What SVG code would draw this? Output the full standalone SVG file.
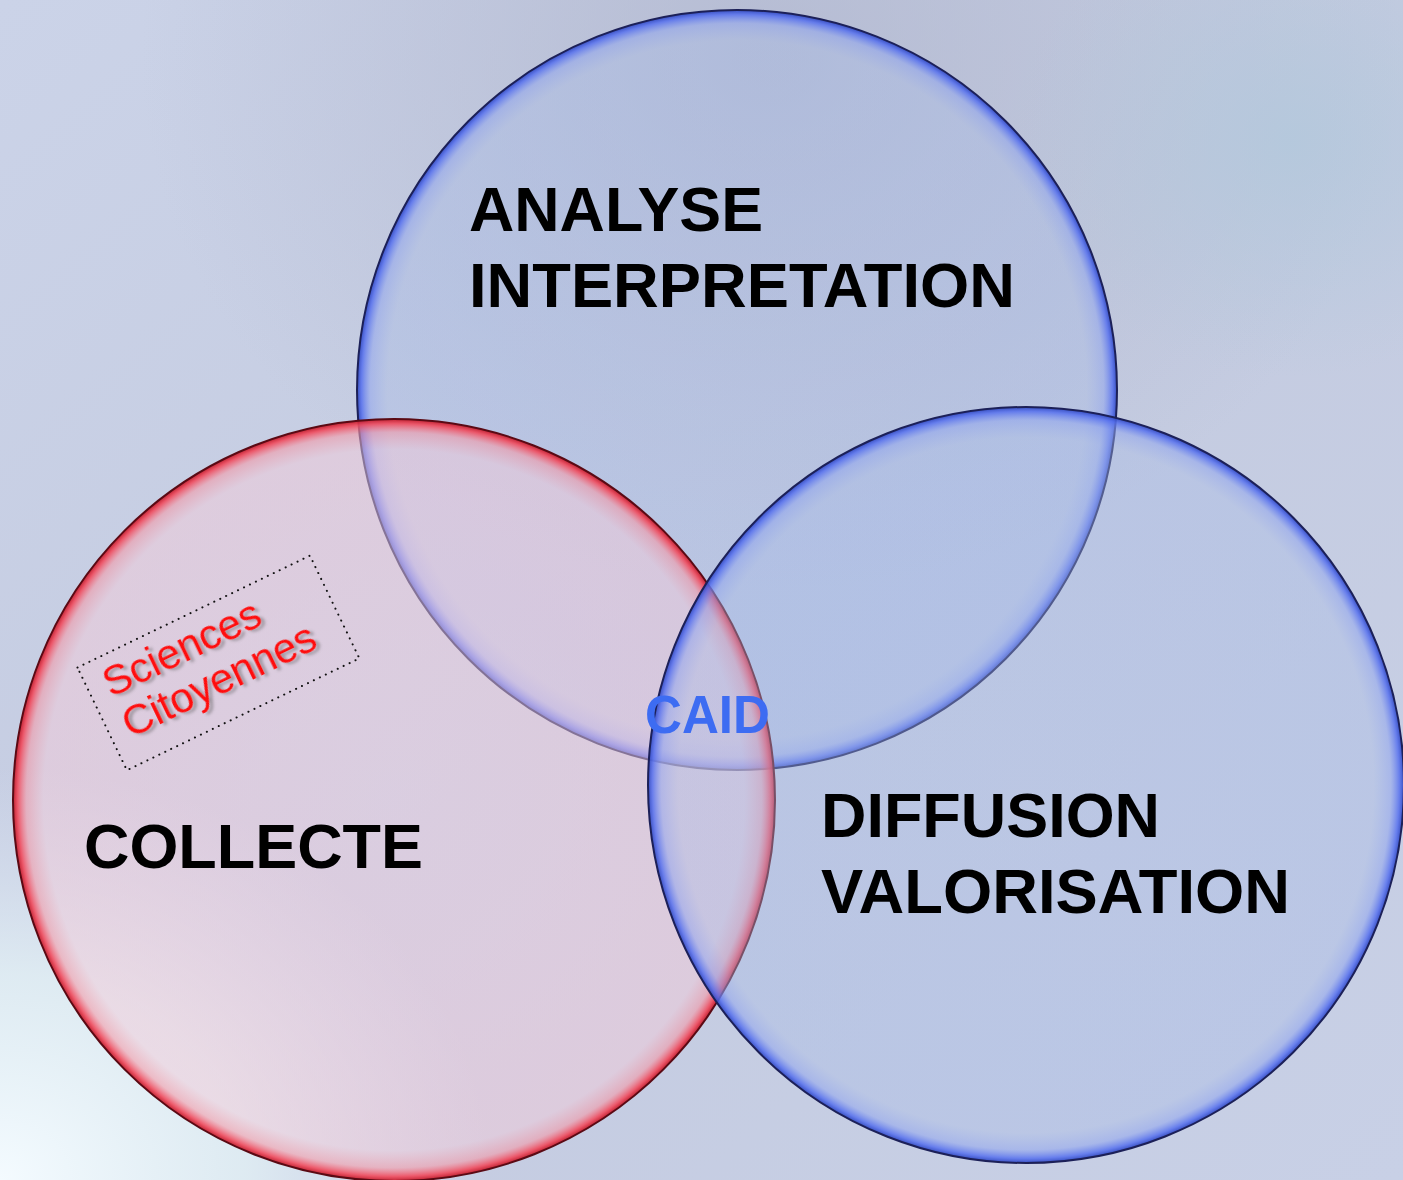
<svg xmlns="http://www.w3.org/2000/svg" width="1403" height="1180" viewBox="0 0 1403 1180">
<defs>
<linearGradient id="bg" x1="0" y1="0" x2="1" y2="1">
<stop offset="0" stop-color="#cbd3e8"/>
<stop offset="0.5" stop-color="#c4cbe0"/>
<stop offset="1" stop-color="#c8d0e6"/>
</linearGradient>
<radialGradient id="bgTop" cx="0.55" cy="0.05" r="0.45">
<stop offset="0" stop-color="#aeb4cc" stop-opacity="0.7"/>
<stop offset="1" stop-color="#aeb4cc" stop-opacity="0"/>
</radialGradient>
<radialGradient id="bgTR" cx="0.92" cy="0.12" r="0.2">
<stop offset="0" stop-color="#b2c8dc" stop-opacity="0.8"/>
<stop offset="1" stop-color="#b2c8dc" stop-opacity="0"/>
</radialGradient>
<radialGradient id="bgBL" cx="0.0" cy="1.0" r="0.35">
<stop offset="0" stop-color="#f4fbff" stop-opacity="1"/>
<stop offset="0.5" stop-color="#e4f2f6" stop-opacity="0.8"/>
<stop offset="1" stop-color="#dde6f4" stop-opacity="0"/>
</radialGradient>
<radialGradient id="gBlue" cx="0.5" cy="0.5" r="0.5">
<stop offset="0" stop-color="#a8bbe6" stop-opacity="0.35"/>
<stop offset="0.92" stop-color="#a8bbe6" stop-opacity="0.4"/>
<stop offset="0.965" stop-color="#8fa4ee" stop-opacity="0.55"/>
<stop offset="0.988" stop-color="#5670ee" stop-opacity="0.85"/>
<stop offset="1" stop-color="#3048c0" stop-opacity="0.95"/>
</radialGradient>
<radialGradient id="gRed" cx="0.5" cy="0.5" r="0.5">
<stop offset="0" stop-color="#f4d0e0" stop-opacity="0.45"/>
<stop offset="0.92" stop-color="#f4cad8" stop-opacity="0.5"/>
<stop offset="0.965" stop-color="#f49aa8" stop-opacity="0.6"/>
<stop offset="0.988" stop-color="#f04a5c" stop-opacity="0.9"/>
<stop offset="1" stop-color="#c01828" stop-opacity="0.95"/>
</radialGradient>
<filter id="shadow" x="-10%" y="-20%" width="130%" height="150%">
<feDropShadow dx="3" dy="3" stdDeviation="1.5" flood-color="#555" flood-opacity="0.45"/>
</filter>
</defs>
<style>
.big { font-family: "Liberation Sans", Arial, sans-serif; font-weight: bold; font-size: 63px; fill: #000; }
.blueRing { stroke: #1c2058; stroke-width: 2; }
.redRing { stroke: #5a0a14; stroke-width: 2; }
.sc { font-family: "Liberation Sans", Arial, sans-serif; font-size: 42px; fill: #ff1010; }
.caid { font-family: "Liberation Sans", Arial, sans-serif; font-weight: bold; font-size: 53px; fill: #3d6cf2; }
</style>
<rect width="1403" height="1180" fill="url(#bg)"/>
<rect width="1403" height="1180" fill="url(#bgTop)"/>
<rect width="1403" height="1180" fill="url(#bgTR)"/>
<rect width="1403" height="1180" fill="url(#bgBL)"/>

<g id="analyse">
<circle cx="737" cy="390" r="380" fill="url(#gBlue)" class="blueRing"/>
<text class="big" x="469" y="231" textLength="294" lengthAdjust="spacingAndGlyphs">ANALYSE</text>
<text class="big" x="469" y="307" textLength="546" lengthAdjust="spacingAndGlyphs">INTERPRETATION</text>
</g>
<g id="collecte">
<circle cx="394" cy="800" r="381" fill="url(#gRed)" class="redRing"/>
<text class="big" x="84" y="868" textLength="339" lengthAdjust="spacingAndGlyphs">COLLECTE</text>
</g>
<g id="diffusion">
<circle cx="1026" cy="785" r="378" fill="url(#gBlue)" class="blueRing"/>
<text class="big" x="821" y="837" textLength="339" lengthAdjust="spacingAndGlyphs">DIFFUSION</text>
<text class="big" x="821" y="913" textLength="469" lengthAdjust="spacingAndGlyphs">VALORISATION</text>
</g>
<g id="sciences-citoyennes" transform="translate(111,698) rotate(-25.7)">
<rect x="-17" y="-42" width="258" height="114" fill="none" stroke="#111" stroke-width="2" stroke-dasharray="0.1 6.5" stroke-linecap="round"/>
<g filter="url(#shadow)">
<text class="sc" x="0" y="0">Sciences</text>
<text class="sc" x="0" y="45">Citoyennes</text>
</g>
</g>
<g id="caid">
<text class="caid" x="645" y="733" textLength="125" lengthAdjust="spacingAndGlyphs">CAID</text>
</g>
<g id="connectors"></g>
</svg>
